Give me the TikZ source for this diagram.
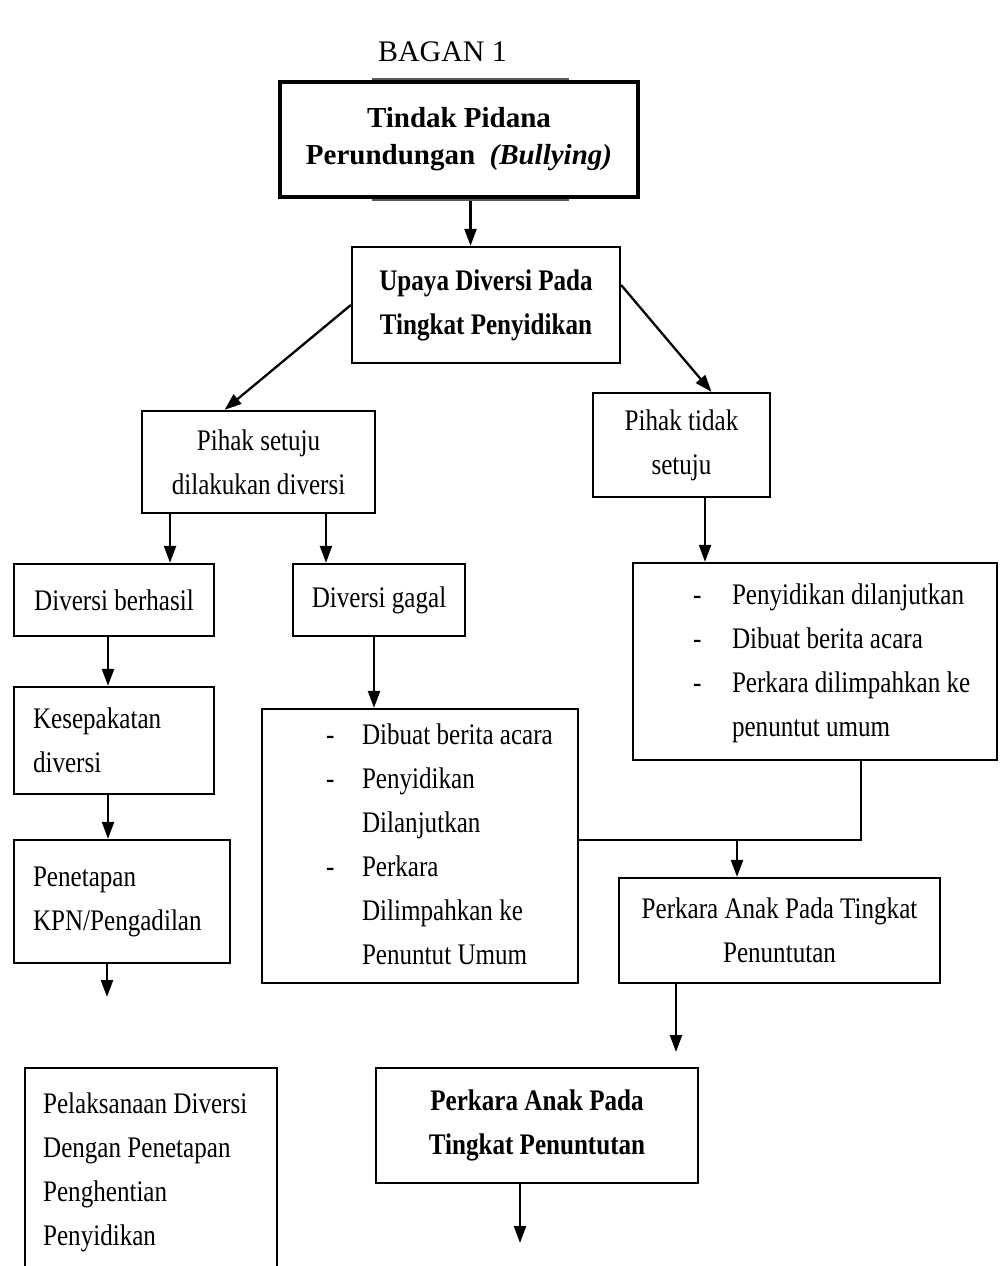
\documentclass[tikz,border=0pt]{standalone}
\usepackage{fontspec}
\setmainfont{Liberation Serif}
\newfontfamily\narrowserif{Liberation Serif}[FakeStretch=0.84]
\usetikzlibrary{arrows.meta}

\begin{document}
\begin{tikzpicture}[x=0.02cm, y=-0.02cm,
		box/.style={draw, line width=1.3pt, inner sep=0pt, align=center, font=\narrowserif\fontsize{17}{25}\selectfont},
		boldbox/.style={box, font=\narrowserif\fontsize{17}{25}\selectfont\bfseries},
		leftbox/.style={box, align=flush left, inner xsep=0.38cm},
		arr/.style={line width=1.3pt, -{Triangle[length=0.34cm, width=0.24cm]}}]
	\useasboundingbox (0,0) rectangle (1003,1266);
	\node[font=\fontsize{17}{20}\selectfont] (title) at (442.5,52) {BAGAN 1};
	% kotak paling atas
	\node[draw=gray!70!black, line width=0.8pt, minimum width=3.9cm, minimum height=2.42cm] (topback) at (470.5,139.5) {};
	\node[draw, line width=2.3pt, fill=white, minimum width=7.16cm, minimum height=2.3cm, align=center, font=\fontsize{16.5}{21}\selectfont\bfseries] (top) at (459,139.5) {Tindak Pidana\\ Perundungan\ \ \textit{(Bullying)}};
	\node[boldbox, minimum width=5.36cm, minimum height=2.32cm] (upaya) at (486,305) {Upaya Diversi Pada\\ Tingkat Penyidikan};
	\node[box, minimum width=4.66cm, minimum height=2.04cm] (setuju) at (258.5,462) {Pihak setuju\\ dilakukan diversi};
	\node[box, minimum width=3.54cm, minimum height=2.08cm] (tidak) at (681.5,445) {Pihak tidak\\ setuju};
	\node[box, minimum width=4cm, minimum height=1.44cm] (berhasil) at (114,600) {Diversi berhasil};
	\node[box, minimum width=3.44cm, minimum height=1.44cm] (gagal) at (379,600) {Diversi gagal};
	\node[leftbox, text width=3.24cm, minimum height=2.14cm] (sepakat) at (114,740.5) {Kesepakatan\\ diversi};
	\node[leftbox, text width=3.56cm, minimum height=2.46cm] (penetapan) at (122,901.5) {Penetapan\\ KPN/Pengadilan};
	\node[leftbox, anchor=north west, text width=4.32cm, inner xsep=0.36cm, inner ysep=0.5cm] (pelaksanaan) at (24,1067) {Pelaksanaan Diversi\\ Dengan Penetapan\\ Penghentian\\ Penyidikan};
	\node[box, minimum width=6.32cm, minimum height=5.48cm] (gagalbox) at (420,846) {%
		\begin{tabular}{@{\hspace{1.28cm}}p{0.72cm}@{}p{4.32cm}@{}}
			- & Dibuat berita acara\\
			- & Penyidikan\\
			  & Dilanjutkan\\
			- & Perkara\\
			  & Dilimpahkan ke\\
			  & Penuntut Umum
		\end{tabular}};
	\node[box, minimum width=7.28cm, minimum height=3.94cm] (tidakbox) at (815,661.5) {%
		\begin{tabular}{@{\hspace{1.2cm}}p{0.78cm}@{}p{5.3cm}@{}}
			- & Penyidikan dilanjutkan\\
			- & Dibuat berita acara\\
			- & Perkara dilimpahkan ke\\
			  & penuntut umum
		\end{tabular}};
	\node[box, minimum width=6.42cm, minimum height=2.1cm] (perkara1) at (779.5,930.5) {Perkara Anak Pada Tingkat\\ Penuntutan};
	\node[boldbox, minimum width=6.44cm, minimum height=2.3cm] (perkara2) at (537,1125.5) {Perkara Anak Pada\\ Tingkat Penuntutan};
	% panah
	\draw[arr] (topback.south) -- (topback.south |- upaya.north);
	\draw[arr] (upaya.west) -- ([xshift=-0.68cm]setuju.north);
	\draw[arr] ([yshift=0.4cm]upaya.east) -- ([xshift=0.6cm]tidak.north);
	\draw[arr] ([xshift=-1.77cm]setuju.south) -- ([xshift=-1.77cm]setuju.south |- berhasil.north);
	\draw[arr] ([xshift=1.35cm]setuju.south) -- ([xshift=1.35cm]setuju.south |- gagal.north);
	\draw[arr] ([xshift=0.47cm]tidak.south) -- ([xshift=0.47cm]tidak.south |- tidakbox.north);
	\draw[arr] ([xshift=-0.12cm]berhasil.south) -- ([xshift=-0.12cm]berhasil.south |- sepakat.north);
	\draw[arr] ([xshift=-0.12cm]sepakat.south) -- ([xshift=-0.12cm]sepakat.south |- penetapan.north);
	\draw[arr] ([xshift=-0.1cm]gagal.south) -- ([xshift=-0.1cm]gagal.south |- gagalbox.north);
	\coordinate (merge) at (737,840);
	\draw[line width=1.3pt] ([xshift=0.92cm]tidakbox.south) |- ([yshift=0.12cm]gagalbox.east);
	\draw[arr] (merge) -- (merge |- perkara1.north);
	\coordinate (endA) at (676,1052);
	\coordinate (endB) at (107,997);
	\coordinate (endC) at (520,1243);
	\draw[arr] (perkara1.south -| endA) -- (endA);
	\draw[arr] (penetapan.south -| endB) -- (endB);
	\draw[arr] (perkara2.south -| endC) -- (endC);
\end{tikzpicture}
\end{document}
